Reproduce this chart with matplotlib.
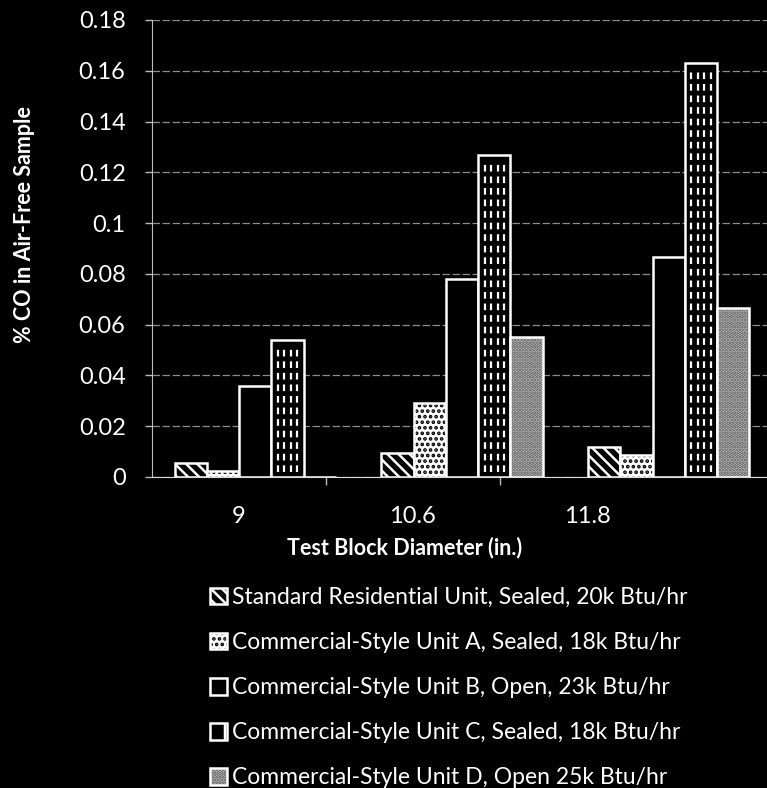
import numpy as np
import matplotlib.pyplot as plt
from matplotlib.patches import Rectangle
from matplotlib.ticker import FuncFormatter, FixedLocator

# ======================================================================================================================
#    Data
# ======================================================================================================================
diameters = ['9', '10.6', '11.8']

series_labels = [
    'Standard Residential Unit, Sealed, 20k Btu/hr',
    'Commercial-Style Unit A, Sealed, 18k Btu/hr',
    'Commercial-Style Unit B, Open, 23k Btu/hr',
    'Commercial-Style Unit C, Sealed, 18k Btu/hr',
    'Commercial-Style Unit D, Open 25k Btu/hr',
]

standard_res = [0.0055, 0.0093, 0.0118]
unit_a = [0.0022, 0.029, 0.0087]
unit_b = [0.036, 0.078, 0.0865]
unit_c = [0.054, 0.127, 0.163]
unit_d = [0.0, 0.055, 0.0665]

y_ticks = [0, 0.02, 0.04, 0.06, 0.08, 0.1, 0.12, 0.14, 0.16, 0.18]

# ======================================================================================================================
#    Styling
# ======================================================================================================================
plt.rcParams['font.family'] = ['Lato', 'DejaVu Sans']
plt.rcParams['hatch.linewidth'] = 1.8
fg = 'white'

# (face colour, hatch, hatch colour)
styles = [
    ('black', '\\\\\\', 'white'),
    ('white', '...', 'black'),
    ('black', None, 'black'),
    ('black', None, 'black'),
    ('#c8c8c8', '.....', '#555555'),
]

fig = plt.figure(figsize=(7.67, 7.88), dpi=100, facecolor='black')
ax = fig.add_axes([152 / 767, 1 - 477 / 788, 1 - 152 / 767, (477 - 20) / 788])
ax.set_facecolor('black')

x = np.arange(len(diameters))
bar_w = 0.156
all_series = [standard_res, unit_a, unit_b, unit_c, unit_d]

ax.set_axisbelow(True)
ax.yaxis.grid(True, color='#8c8c8c', linewidth=0.9, linestyle=(0, (6, 2)))

handles = []
for j, (vals, st) in enumerate(zip(all_series, styles)):
    face, hatch, hcol = st
    # fill + hatch layer (hatch takes the edge colour), then white outline on top
    fill = ax.bar(x + (j - 2) * bar_w, vals, bar_w, facecolor=face, edgecolor=hcol,
                  linewidth=0, hatch=hatch)
    outline = ax.bar(x + (j - 2) * bar_w, vals, bar_w, facecolor='none', edgecolor=fg,
                     linewidth=1.8)
    handles.append((fill.patches[0], outline.patches[0]))
    if j == 3:
        # dashed vertical stripes inside unit C bars
        for rect in fill:
            x0, w, h = rect.get_x(), rect.get_width(), rect.get_height()
            xs = x0 + w * np.array([0.2, 0.4, 0.6, 0.8])
            ax.vlines(xs, 0.002, h - 0.002, colors=fg, linewidth=1.6, linestyles=(0, (3, 2.2)))

# legend key for unit C: box with a short stripe pattern
handles[3] = (Rectangle((0, 0), 1, 1, facecolor='black', edgecolor='white', hatch='|', linewidth=0),
              handles[3][1])

ax.set_xlim(-0.5, 2.475)
ax.set_ylim(0, 0.18)
ax.set_yticks(y_ticks)
ax.yaxis.set_major_formatter(FuncFormatter(lambda v, p: '{:g}'.format(round(v, 2))))

# category labels sit a bit left of the bar groups in the original scan
label_pos = -0.082 + 0.844 * x
ax.set_xticks(label_pos)
ax.set_xticklabels(diameters)
ax.xaxis.set_minor_locator(FixedLocator((label_pos[:-1] + label_pos[1:]) / 2))

ax.tick_params(axis='x', which='major', length=0, pad=21, colors=fg, labelsize=17)
ax.tick_params(axis='x', which='minor', length=6, width=1, colors='#bbbbbb')
ax.tick_params(axis='y', length=5, width=1, pad=14, colors='#bbbbbb', labelcolor=fg, labelsize=17)

for s in ['top', 'right']:
    ax.spines[s].set_visible(False)
ax.spines['left'].set_color('#bbbbbb')
ax.spines['bottom'].set_color('#dddddd')

fig.text(405 / 767, 1 - 548 / 788, 'Test Block Diameter (in.)', color=fg, fontsize=15.5,
         fontweight='bold', ha='center', va='center')
fig.text(25 / 767, 1 - 225 / 788, '% CO in Air-Free Sample', color=fg, fontsize=15.5,
         fontweight='bold', ha='center', va='center', rotation=90)

leg = fig.legend(handles=handles, labels=series_labels, loc='upper left',
                 bbox_to_anchor=(210 / 767, 1 - 587 / 788),
                 frameon=False, fontsize=16.5, labelcolor=fg, handlelength=0.75, handleheight=0.75,
                 handletextpad=0.2, labelspacing=1.05, borderpad=0, borderaxespad=0)

fig.savefig('out.png', dpi=100, facecolor='black')
